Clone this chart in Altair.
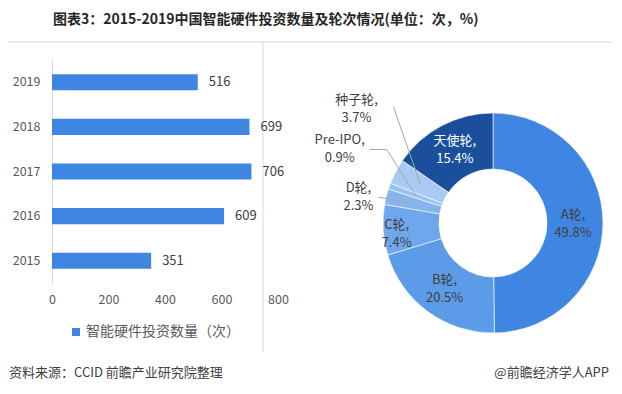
import altair as alt
import pandas as pd
import numpy as np

# ---------------- data ----------------
years = ["2019", "2018", "2017", "2016", "2015"]
counts = [516, 699, 706, 609, 351]
series_name = "智能硬件投资数量（次）"
x_ticks = [0, 200, 400, 600, 800]

rounds = ["A轮", "B轮", "C轮", "D轮", "Pre-IPO", "种子轮", "天使轮"]
shares = [49.8, 20.5, 7.4, 2.3, 0.9, 3.7, 15.4]

TITLE = "图表3：2015-2019中国智能硬件投资数量及轮次情况(单位：次，%)"
SOURCE = "资料来源：CCID 前瞻产业研究院整理"
BRAND = "@前瞻经济学人APP"

# ---------------- style / layout ----------------
FONT = "Noto Sans CJK SC"
BAR_COLOR = "#3f86e2"
round_colors = ["#3f86e2", "#5c9be8", "#6ea7eb", "#86b5ee", "#9ac1f1", "#a9cbf3", "#1b4f9c"]
W, H = 226, 223
CX, CY = 441, 163
R_OUT, R_IN = 110, 54
R_MID = (R_OUT + R_IN) / 2
LINE_GAP = 9  # half the distance between the two lines of a donut label
# label radius and angular nudge (degrees)
LABEL_LAYOUT = {"A轮": (80, 1), "B轮": (82, 0), "C轮": (97, -3), "D轮": (137, -3),
                "Pre-IPO": (170, 6), "种子轮": (178, 12), "天使轮": (82, 0)}
LEADERS = {"D轮": [(20, 0)], "Pre-IPO": [(30, 0), (47, 0)], "种子轮": [(37, -2)]}

# ---------------- derived tables ----------------
bar_df = pd.DataFrame({"year": years, "count": counts, "series": series_name})

pie = pd.DataFrame({"round": rounds, "share": shares, "order": list(range(len(rounds)))})
pie["mid"] = (pie["share"].cumsum() - pie["share"] / 2) / pie["share"].sum() * 2 * np.pi
lx, ly, l1, l2, tc = [], [], [], [], []
for r_name, s, m in zip(pie["round"], pie["share"], pie["mid"]):
    rad, shift = LABEL_LAYOUT[r_name]
    a = m + np.radians(shift)
    lx.append(CX + rad * np.sin(a))
    ly.append(CY - rad * np.cos(a))
    l1.append(f"{r_name},")
    l2.append(f"{s:.1f}%")
    tc.append("white" if r_name == "天使轮" else "#404040")
pie["lx"], pie["ly"], pie["l1"], pie["l2"], pie["tc"] = lx, ly, l1, l2, tc

lead_rows = []
for r_name, offs in LEADERS.items():
    row = pie[pie["round"] == r_name].iloc[0]
    pts = [(row["lx"] + dx, row["ly"] + dy) for dx, dy in offs]
    pts.append((CX + R_MID * np.sin(row["mid"]), CY - R_MID * np.cos(row["mid"])))
    for i, (px, py) in enumerate(pts):
        lead_rows.append({"round": r_name, "seq": i, "px": px, "py": py})
lead_df = pd.DataFrame(lead_rows)

one = pd.DataFrame({"k": [0]})

# ---------------- bar chart ----------------
bars = alt.Chart(bar_df).mark_bar().encode(
    y=alt.Y("year:N", sort=years,
            scale=alt.Scale(paddingInner=0.64, paddingOuter=0.32),
            axis=alt.Axis(title=None, ticks=False, domainColor="#d9d9d9", labelPadding=12,
                          labelFontSize=12.5, labelColor="#595959", labelFont=FONT)),
    x=alt.X("count:Q", scale=alt.Scale(domain=[0, 800]),
            axis=alt.Axis(values=x_ticks, title=None, domain=False, ticks=False, grid=False,
                          labelFlush=False, labelPadding=10, labelFontSize=12.5,
                          labelColor="#595959", labelFont=FONT)),
    color=alt.Color("series:N", scale=alt.Scale(range=[BAR_COLOR]),
                    legend=alt.Legend(orient="none", legendX=17, legendY=265, title=None,
                                      symbolType="square", symbolSize=64, symbolStrokeWidth=0,
                                      labelFontSize=14, labelColor="#595959", labelFont=FONT,
                                      labelOffset=3)),
)
values = alt.Chart(bar_df).mark_text(align="left", baseline="middle", dx=11, fontSize=13,
                                     color="#404040", font=FONT).encode(
    y=alt.Y("year:N", sort=years), x=alt.X("count:Q"), text=alt.Text("count:Q"))

# ---------------- donut ----------------
arc = alt.Chart(pie).mark_arc(outerRadius=R_OUT, innerRadius=R_IN, stroke="white",
                              strokeWidth=0.6).encode(
    theta=alt.Theta("share:Q", stack=True),
    color=alt.Color("round:N", scale=alt.Scale(domain=rounds, range=round_colors), legend=None),
    order=alt.Order("order:Q"),
    x=alt.value(CX), y=alt.value(CY))

leaders = alt.Chart(lead_df).mark_line(color="#a6a6a6", strokeWidth=1).encode(
    x=alt.X("px:Q", scale=None, axis=None), y=alt.Y("py:Q", scale=None, axis=None),
    detail="round:N", order="seq:Q")

label_base = alt.Chart(pie).encode(
    x=alt.X("lx:Q", scale=None, axis=None), y=alt.Y("ly:Q", scale=None, axis=None),
    color=alt.Color("tc:N", scale=None))
labels1 = label_base.mark_text(fontSize=13, font=FONT, align="center", baseline="middle",
                               dy=-LINE_GAP).encode(text="l1:N")
labels2 = label_base.mark_text(fontSize=13, font=FONT, align="center", baseline="middle",
                               dy=LINE_GAP).encode(text="l2:N")

# ---------------- frame lines and footer ----------------
top_rule = alt.Chart(one).mark_rule(color="#d9d9d9", strokeWidth=1).encode(
    x=alt.value(-44), x2=alt.value(562), y=alt.value(-18))
divider = alt.Chart(one).mark_rule(color="#d9d9d9", strokeWidth=1).encode(
    x=alt.value(211), y=alt.value(-18), y2=alt.value(292))
source = alt.Chart(one).mark_text(align="left", baseline="middle", fontSize=13, font=FONT,
                                  color="#404040").encode(
    x=alt.value(-43), y=alt.value(313), text=alt.value(SOURCE))
brand = alt.Chart(one).mark_text(align="right", baseline="middle", fontSize=13, font=FONT,
                                 color="#404040").encode(
    x=alt.value(557), y=alt.value(313), text=alt.value(BRAND))

chart = alt.layer(top_rule, divider, bars, values, arc, leaders, labels1, labels2,
                  source, brand).properties(
    width=W, height=H,
    autosize=alt.AutoSizeParams(type="none"),
    padding={"left": 44, "top": 52, "right": 334, "bottom": 100},
    title=alt.TitleParams(TITLE, anchor="start", frame="group", dx=1, offset=15,
                          fontSize=14, fontWeight="bold", font=FONT, color="#262626"),
).resolve_scale(color="independent").configure_view(stroke=None)

chart.save("out.html", embed_options={"renderer": "svg", "actions": False})
